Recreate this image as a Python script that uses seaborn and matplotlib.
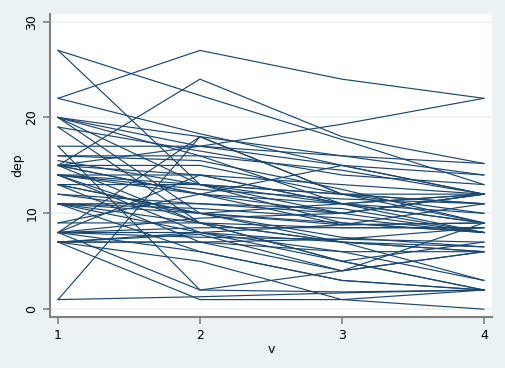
import numpy as np
import pandas as pd
import matplotlib
matplotlib.use('Agg')
import matplotlib.pyplot as plt
import seaborn as sns

# depression score per subject at each visit
dep_v1 = [22, 15, 27, 15, 17, 27, 22, 1, 1, 20, 20, 20, 20, 19, 19, 17, 16, 15.5,
          15, 15, 15, 15, 14, 14, 14, 14, 13, 13, 13, 12, 11, 11, 11, 11, 9, 9,
          8, 8, 8, 8, 8, 8, 7, 7, 7, 7, 7, 8, 20, 15, 14, 11, 13,
          16, 14, 11, 8, 7, 12]
dep_v2 = [27, 17, 22.3, 24, 17, 13, 18.3, 18, 1.3, 18, 17, 16, 10, 16.5, 9, 2, 16, 13,
          15, 14, 12, 9, 14, 13, 12, 8, 13, 10, 7, 10, 11, 10, 8, 6, 9, 12,
          18, 14, 8, 7.5, 6, 2, 7, 7.8, 7, 5, 1, 8.5, 13, 12, 9, 9, 10,
          15.5, 12.5, 10.5, 9.5, 8, 11]
dep_v3 = [24, 19.3, 17.7, 18, 16, 9, 15, 12, 1.7, 16, 15, 11, 7, 14, 5, 4, 14.5, 12,
          12, 11, 10, 7, 13, 11, 8.8, 5, 12, 9, 4, 7.5, 10, 8.8, 6, 3, 8.5, 15,
          12, 11, 7, 7.3, 3, 1.8, 7.3, 4, 6, 1, 1, 8.5, 10, 11, 7, 5, 11,
          12.5, 11.5, 9.5, 10, 8.8, 10.5]
dep_v4 = [22, 22, 13, 15.2, 15.2, 8, 12, 9, 2, 14, 12, 8, 3, 13, 2, 6, 12, 11,
          12, 9, 12, 6, 12, 9, 11, 2, 11, 8, 6, 6.5, 12, 9, 3, 2, 8.5, 14,
          10, 12, 6, 7, 2, 2, 8.5, 9, 6, 0, 2, 8.5, 8, 10, 6.5, 7, 12,
          9, 11, 8, 12, 9, 8]
visits = [1, 2, 3, 4]

rows = []
for i in range(len(dep_v1)):
    for v, vals in zip(visits, [dep_v1, dep_v2, dep_v3, dep_v4]):
        rows.append({'id': i, 'v': v, 'dep': vals[i]})
df = pd.DataFrame(rows)

bg = '#eaf2f3'
fig = plt.figure(figsize=(5.06, 3.68), dpi=100, facecolor=bg)
ax = fig.add_axes([0.099, 0.139, 0.873, 0.823])
ax.set_facecolor('white')

sns.lineplot(data=df, x='v', y='dep', units='id', estimator=None,
             color='#1a476f', linewidth=0.85, ax=ax)

ax.set_xlim(0.944, 4.056)
ax.set_ylim(-0.8, 30.8)
ax.set_xticks([1, 2, 3, 4])
ax.set_yticks([0, 10, 20, 30])
for y in [0, 10, 20, 30]:
    ax.axhline(y, color=bg, linewidth=1.2, zorder=0)

for s in ['top', 'right']:
    ax.spines[s].set_visible(False)
for s in ['left', 'bottom']:
    ax.spines[s].set_color('#808080')
    ax.spines[s].set_linewidth(1.5)
ax.tick_params(colors='#808080', labelcolor='black', length=5, width=1.2, labelsize=9)
plt.setp(ax.get_yticklabels(), rotation=90, va='center')
ax.set_xlabel('v', fontsize=9, labelpad=1)
ax.set_ylabel('dep', fontsize=9, labelpad=1)

fig.savefig('out.png', dpi=100, facecolor=bg)
